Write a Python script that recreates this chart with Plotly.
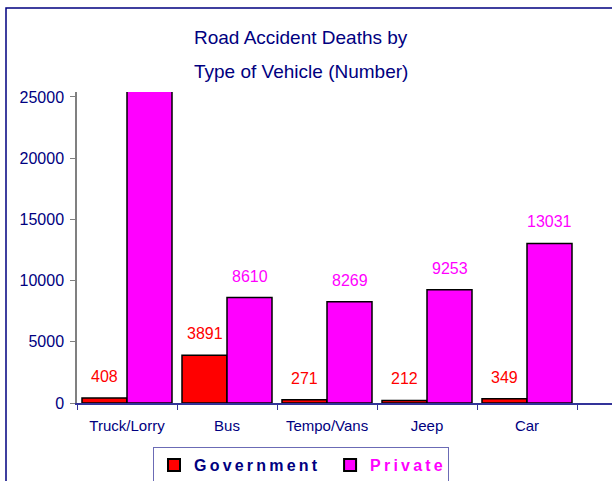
import plotly.graph_objects as go

categories = ["Truck/Lorry", "Bus", "Tempo/Vans", "Jeep", "Car"]
government = [408, 3891, 271, 212, 349]
private = [29000, 8610, 8269, 9253, 13031]  # Truck/Lorry private is clipped in the source; estimated
y_tick_vals = [0, 5000, 10000, 15000, 20000, 25000]

W, H = 612, 481
L, R, T, B = 77, 0, 92, 78
PW, PH = W - L - R, H - T - B
YMAX = 25400
NAVY = "#000080"
BASE = "Liberation Sans, Arial, sans-serif"


def px(x):
    return (x - L) / PW


def py(y):
    return (H - B - y) / PH


xs = list(range(len(categories)))
off = 0.225
bw = 0.45

fig = go.Figure()
sp = "\u2009"
fig.add_trace(go.Bar(
    x=[i - off for i in xs], y=government, width=bw,
    marker=dict(color="#FF0000", line=dict(color="black", width=1.5)),
    name="<b>" + sp.join("Government") + "</b>" + "\u2002",
))
fig.add_trace(go.Bar(
    x=[i + off for i in xs], y=private, width=bw,
    marker=dict(color="#FF00FF", line=dict(color="black", width=1.5)),
    name="<b><span style='color:#FF00FF'>" + sp.join("Private") + "</span></b>",
))

annotations = []
for i, v in zip(xs, government):
    if v <= YMAX:
        annotations.append(dict(x=i - off, y=v, text=str(v), showarrow=False,
                                yanchor="bottom", yshift=11,
                                font=dict(color="#FF0000", size=16, family=BASE)))
for i, v in zip(xs, private):
    if v <= YMAX:
        annotations.append(dict(x=i + off, y=v, text=str(v), showarrow=False,
                                yanchor="bottom", yshift=11,
                                font=dict(color="#FF00FF", size=16, family=BASE)))

annotations.append(dict(xref="paper", yref="paper", x=px(301), y=py(37),
                        text="Road Accident Deaths by", showarrow=False,
                        xanchor="center", yanchor="middle",
                        font=dict(color=NAVY, size=19, family=BASE)))
annotations.append(dict(xref="paper", yref="paper", x=px(301), y=py(71),
                        text="Type of Vehicle (Number)", showarrow=False,
                        xanchor="center", yanchor="middle",
                        font=dict(color=NAVY, size=19, family=BASE)))

shapes = [dict(type="rect", xref="paper", yref="paper",
               x0=px(6), x1=px(640), y0=py(520), y1=py(8),
               line=dict(color=NAVY, width=1.5), layer="below")]

fig.update_layout(
    width=W, height=H,
    margin=dict(l=L, r=R, t=T, b=B, pad=0, autoexpand=False),
    paper_bgcolor="white", plot_bgcolor="white",
    barmode="overlay",
    showlegend=True,
    legend=dict(orientation="h", xref="container", yref="container",
                x=153 / W, xanchor="left",
                y=1 - 447 / H, yanchor="top",
                bordercolor="#6b6bb5", borderwidth=1,
                font=dict(color=NAVY, size=16, family=BASE),
                itemsizing="constant"),
    annotations=annotations,
    shapes=shapes,
    xaxis=dict(range=[-0.5, -0.5 + PW / 100], tickmode="array",
               tickvals=xs, ticktext=categories, ticks="", showgrid=False,
               zeroline=False, showline=True, linecolor="#333399", linewidth=1.5,
               tickfont=dict(color=NAVY, size=15, family=BASE),
               ticklabelstandoff=8,
               minor=dict(tickmode="array", tickvals=[i + 0.5 for i in range(-1, 6)],
                          ticks="outside", ticklen=5, tickcolor="#333399", showgrid=False),
               automargin=False, fixedrange=True),
    yaxis=dict(range=[0, YMAX], tickmode="array", tickvals=y_tick_vals,
               ticktext=[str(v) for v in y_tick_vals],
               ticks="outside", ticklen=5, tickcolor="#808080",
               showline=True, linecolor="#808080", linewidth=1.5,
               showgrid=False, zeroline=False,
               tickfont=dict(color=NAVY, size=16, family=BASE),
               ticklabelstandoff=3,
               automargin=False, fixedrange=True),
)

fig.write_html("out.html", config={"displayModeBar": False},
               post_script="document.body.style.margin='0';document.body.style.padding='0';")
